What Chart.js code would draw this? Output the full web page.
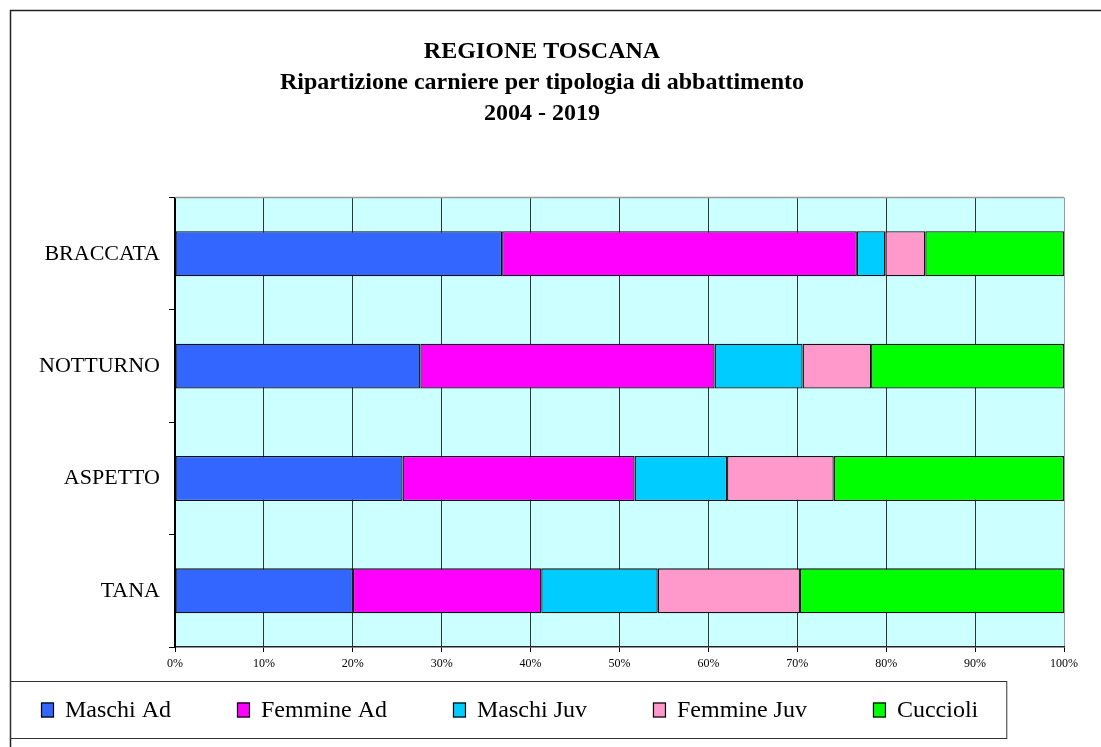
<!DOCTYPE html>
<html>
<head>
<meta charset="utf-8">
<script src="https://cdn.jsdelivr.net/npm/chart.js@4/dist/chart.umd.min.js"></script>
<style>
  html, body { margin: 0; padding: 0; background: #fff; }
  #wrap { width: 1101px; height: 747px; }
</style>
</head>
<body>
<div id="wrap"><canvas id="chart"></canvas></div>
<script>
// Categories (top to bottom) and the share of each class, in percent
const categories = ["BRACCATA", "NOTTURNO", "ASPETTO", "TANA"];
const maschiAd = [36.8, 27.6, 25.6, 20.0];
const femmineAd = [39.9, 33.1, 26.1, 21.2];
const maschiJuv = [3.2, 9.9, 10.4, 13.1];
const femmineJuv = [4.5, 7.7, 12.0, 16.0];
const cuccioli = [15.6, 21.7, 25.9, 29.7];

const seriesNames = ["Maschi Ad", "Femmine Ad", "Maschi Juv", "Femmine Juv", "Cuccioli"];
const seriesValues = [maschiAd, femmineAd, maschiJuv, femmineJuv, cuccioli];
const seriesColors = ["#3366FF", "#FF00FF", "#00CCFF", "#FF99CC", "#00FF00"];

const titleLines = [
  "REGIONE TOSCANA",
  "Ripartizione carniere per tipologia di abbattimento",
  "2004 - 2019",
];

const SERIF = "'Liberation Serif', 'Times New Roman', serif";

// plot background, outer frame and the boxed legend
const framePlugin = {
  id: "frame",
  beforeDraw(chart) {
    const { ctx, chartArea: a } = chart;
    ctx.save();
    ctx.fillStyle = "#fff";
    ctx.fillRect(0, 0, chart.width, chart.height);
    ctx.fillStyle = "#CCFFFF";
    ctx.fillRect(a.left, a.top, a.right - a.left, a.bottom - a.top);
    ctx.restore();
  },
  afterDraw(chart) {
    const { ctx, chartArea: a } = chart;
    ctx.save();
    // gray top edge of plot
    ctx.strokeStyle = "#999";
    ctx.lineWidth = 1.5;
    ctx.beginPath();
    ctx.moveTo(a.left, a.top);
    ctx.lineTo(a.right, a.top);
    ctx.stroke();

    // outer frame
    ctx.strokeStyle = "#222";
    ctx.lineWidth = 1.5;
    ctx.strokeRect(10.5, 10.5, chart.width + 20, chart.height + 20);

    // legend
    const xs = chart.scales.x;
    const boxTop = xs.bottom + 4;
    const boxH = 57;
    const cy = boxTop + boxH / 2;
    ctx.font = "24px " + SERIF;
    ctx.textBaseline = "middle";
    ctx.textAlign = "left";
    let x = 41;
    chart.data.datasets.forEach((ds, i) => {
      ctx.fillStyle = ds.backgroundColor;
      ctx.fillRect(x, cy - 7, 13, 15);
      ctx.strokeStyle = "#000";
      ctx.lineWidth = 1.2;
      ctx.strokeRect(x + 0.5, cy - 6.5, 12, 14);
      ctx.fillStyle = "#000";
      ctx.fillText(ds.label, x + 24, cy + 1);
      x += 24 + ctx.measureText(ds.label).width + (i < 4 ? 66 : 0);
    });
    ctx.strokeStyle = "#333";
    ctx.lineWidth = 1;
    ctx.strokeRect(10.5, boxTop + 0.5, x + 28 - 10, boxH);
    ctx.restore();
  },
};

new Chart(document.getElementById("chart"), {
  type: "bar",
  data: {
    labels: categories,
    datasets: seriesNames.map((name, i) => ({
      label: name,
      data: seriesValues[i],
      backgroundColor: seriesColors[i],
      borderColor: "#111",
      borderWidth: 1.3,
      borderSkipped: false,
      barPercentage: 0.4,
      categoryPercentage: 1,
    })),
  },
  options: {
    indexAxis: "y",
    responsive: true,
    maintainAspectRatio: false,
    animation: false,
    layout: { padding: { top: 10, left: 20, right: 37, bottom: 70 } },
    plugins: {
      legend: { display: false },
      tooltip: { enabled: false },
      title: {
        display: true,
        text: titleLines,
        color: "#000",
        font: { family: SERIF, size: 24, weight: "bold", lineHeight: 1.3 },
        padding: { top: 26, bottom: 68 },
      },
    },
    scales: {
      x: {
        stacked: true,
        min: 0,
        max: 100,
        afterFit(scale) { scale.height = 30; },
        ticks: {
          stepSize: 10,
          color: "#000",
          padding: 5,
          font: { family: SERIF, size: 12 },
          callback: (v) => v + "%",
        },
        grid: {
          color: (c) => (c.tick && c.tick.value === 100 ? "#999" : "#333"),
          tickColor: "#000",
          tickLength: 5,
          lineWidth: 1,
        },
        border: { display: true, color: "#222", width: 1.5 },
      },
      y: {
        stacked: true,
        afterFit(scale) { scale.width = 155; },
        ticks: {
          color: "#000",
          padding: 9,
          font: { family: SERIF, size: 22 },
        },
        grid: {
          offset: true,
          drawOnChartArea: false,
          tickColor: "#000",
          tickLength: 6,
        },
        border: { display: true, color: "#000", width: 2 },
      },
    },
  },
  plugins: [framePlugin],
});
</script>
</body>
</html>
